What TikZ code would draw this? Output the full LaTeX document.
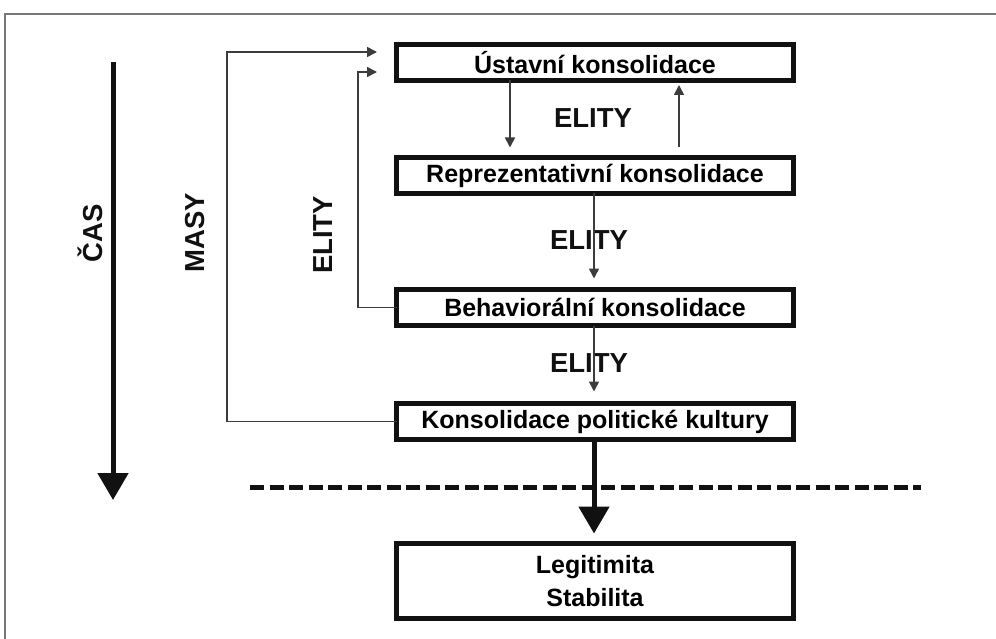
\documentclass[tikz,border=0pt]{standalone}
\usepackage{fontspec}
\setmainfont{Liberation Sans}
\usepackage{tikz}
\usetikzlibrary{arrows.meta,positioning,calc}
\definecolor{ink}{HTML}{111111}
\definecolor{wire}{HTML}{3C3C3C}
\definecolor{rule}{HTML}{777777}

\begin{document}
\begin{tikzpicture}[
  x=1pt,y=-1pt,
  node distance=77pt,
  stage/.style={draw=ink,line width=5pt,minimum width=397pt,minimum height=36pt,
                inner sep=0pt,outer sep=0pt,align=center,
                font=\fontsize{25}{33}\selectfont\bfseries},
  tag/.style={text=ink,inner sep=0pt,font=\fontsize{27.5}{33}\selectfont\bfseries},
  link/.style={-{Triangle[length=10pt,width=10pt]},line width=1.6pt,draw=wire},
  heavy/.style={-{Triangle[length=27pt,width=30pt]},line width=5pt,draw=ink},
  frame/.style={line width=2pt,draw=rule}
]
  \useasboundingbox (0,0) rectangle (996,639);
  \draw[frame] (5,639) -- (5,14) -- (996,14);

  \node[stage] (ust) at (595,62.5) {Ústavní konsolidace};
  \node[stage,below=77pt of ust] (rep) {Reprezentativní konsolidace};
  \node[stage,below=96pt of rep] (beh) {Behaviorální konsolidace};
  \node[stage,below=78pt of beh] (kul) {Konsolidace politické kultury};
  \node[stage,minimum height=75pt,below=104pt of kul] (leg) {Legitimita\\Stabilita};

  % popisky
  \node[tag] (elity1) at (593,118) {ELITY};
  \node[tag] (elity2) at (589,240) {ELITY};
  \node[tag] (elity3) at (589,363) {ELITY};
  \node[tag,rotate=90] (cas) at (90,233) {ČAS};
  \node[tag,rotate=90] (masy) at (195,233) {MASY};
  \node[tag,rotate=90] (elity4) at (323,235) {ELITY};

  % osa casu a hranice
  \coordinate (t0) at (113,62);
  \coordinate (t1) at (113,500);
  \coordinate (d0) at (250,487);
  \coordinate (d1) at (921,487);
  \draw[heavy] (t0) -- (t1);
  \draw[line width=5pt,draw=ink,dash pattern=on 14pt off 5.5pt] (d0) -- (d1);

  \draw[link,shorten >=10pt] ([xshift=-85pt]ust.south) -- ([xshift=-85pt]rep.north);
  \draw[link,shorten <=10pt,shorten >=4.5pt] ([xshift=84pt]rep.north) -- ([xshift=84pt]ust.south);
  \draw[link,shorten >=11pt] ([xshift=-1pt]rep.south) -- ([xshift=-1pt]beh.north);
  \draw[link,shorten >=12pt] ([xshift=-1pt]beh.south) -- ([xshift=-1pt]kul.north);
  \draw[link,shorten >=19.5pt] (kul.west) -- ++(-169.5,0) |- ([yshift=-7.5pt]ust.north west);
  \draw[link,shorten >=19.5pt] (beh.west) -- ++(-38.5,0) |- ([yshift=-27.5pt]ust.north west);
  \draw[heavy,shorten >=10pt] ([xshift=-1pt]kul.south) -- ([xshift=-1pt]leg.north);
\end{tikzpicture}
\end{document}
